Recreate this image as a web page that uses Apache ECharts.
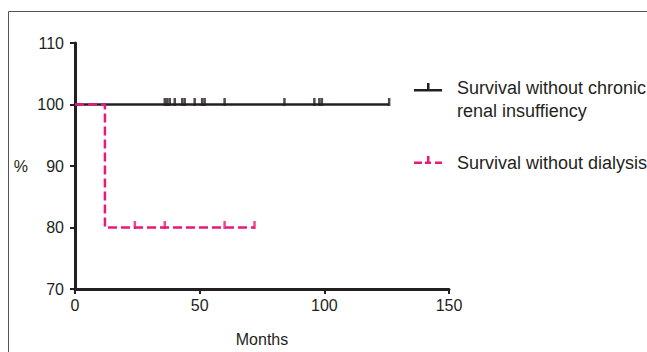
<!DOCTYPE html>
<html>
<head>
<meta charset="utf-8">
<script src="https://cdn.jsdelivr.net/npm/echarts@6/dist/echarts.min.js"></script>
<style>
  html, body { margin: 0; padding: 0; background: #fff; }
  #chart { width: 647px; height: 352px; }
</style>
</head>
<body>
<div id="chart"></div>
<script>
const X_TICKS = [0, 50, 100, 150];
const Y_TICKS = [70, 80, 90, 100, 110];

// Kaplan-Meier steps: [month, percent]
const CRI_CURVE = [[0, 100], [126, 100]];
const DIALYSIS_CURVE = [[0, 100], [12, 100], [12, 80], [72, 80]];

// censored observations (months)
const CRI_CENSORED = [36, 37, 38, 40, 43, 44, 48, 51, 52, 60, 84, 96, 98, 99, 126];
const CRI_CENSORED_LEVEL = 100;
const DIALYSIS_CENSORED = [24, 36, 60, 72];
const DIALYSIS_CENSORED_LEVEL = 80;

const LEGEND_NAMES = ["Survival without chronic\nrenal insuffiency", "Survival without dialysis"];

const BLACK = "#231f20";
const PINK = "#e8187c";
const FONT = "Liberation Sans, Arial, sans-serif";

const chart = echarts.init(document.getElementById("chart"), undefined, { renderer: "svg" });

const censorSeries = (times, level, color) => ({
  type: "scatter",
  data: times.map((t) => [t, level]),
  symbol: "rect",
  symbolSize: [2.5, 8],
  symbolOffset: [0, -2.5],
  itemStyle: { color },
  z: 4,
  silent: true,
});

chart.setOption({
  animation: false,
  grid: { left: 75, right: 198, top: 43, bottom: 62 },
  xAxis: {
    type: "value",
    min: X_TICKS[0],
    max: X_TICKS[X_TICKS.length - 1],
    interval: 50,
    name: "Months",
    nameLocation: "middle",
    nameGap: 42,
    nameTextStyle: { color: BLACK, fontSize: 16, fontFamily: FONT },
    axisLine: { lineStyle: { color: BLACK, width: 3 } },
    axisTick: { length: 5, lineStyle: { color: BLACK, width: 2 } },
    axisLabel: { color: BLACK, fontSize: 16, fontFamily: FONT, margin: 8 },
    splitLine: { show: false },
  },
  yAxis: {
    type: "value",
    min: Y_TICKS[0],
    max: Y_TICKS[Y_TICKS.length - 1],
    interval: 10,
    name: "%",
    nameLocation: "middle",
    nameRotate: 0,
    nameGap: 47,
    nameTextStyle: { color: BLACK, fontSize: 16, fontFamily: FONT },
    axisLine: { show: true, lineStyle: { color: BLACK, width: 3 } },
    axisTick: { show: true, length: 5, lineStyle: { color: BLACK, width: 2 } },
    axisLabel: { color: BLACK, fontSize: 16, fontFamily: FONT, margin: 11 },
    splitLine: { show: false },
  },
  series: [
    {
      name: LEGEND_NAMES[0],
      type: "line",
      data: CRI_CURVE,
      showSymbol: false,
      lineStyle: { color: BLACK, width: 2.5 },
      z: 2,
    },
    censorSeries(CRI_CENSORED, CRI_CENSORED_LEVEL, BLACK),
    {
      name: LEGEND_NAMES[1],
      type: "line",
      data: DIALYSIS_CURVE,
      showSymbol: false,
      lineStyle: { color: PINK, width: 2.5, type: [9, 4] },
      z: 3,
    },
    censorSeries(DIALYSIS_CENSORED, DIALYSIS_CENSORED_LEVEL, PINK),
  ],
  graphic: [
    {
      type: "rect",
      shape: { x: 8.5, y: 11.5, width: 800, height: 500 },
      style: { fill: "none", stroke: "#555", lineWidth: 1 },
      silent: true,
    },
    // legend: chronic renal insufficiency
    { type: "rect", shape: { x: 414, y: 89, width: 28, height: 2.5 }, style: { fill: BLACK } },
    { type: "rect", shape: { x: 427, y: 83, width: 2.5, height: 7 }, style: { fill: BLACK } },
    {
      type: "text",
      x: 457,
      y: 99.5,
      style: {
        text: LEGEND_NAMES[0],
        fill: BLACK,
        font: "18px " + FONT,
        lineHeight: 23,
        verticalAlign: "middle",
      },
    },
    // legend: dialysis
    { type: "rect", shape: { x: 414, y: 161.5, width: 8, height: 2.5 }, style: { fill: PINK } },
    { type: "rect", shape: { x: 425, y: 161.5, width: 6, height: 2.5 }, style: { fill: PINK } },
    { type: "rect", shape: { x: 435, y: 161.5, width: 7, height: 2.5 }, style: { fill: PINK } },
    { type: "rect", shape: { x: 427, y: 156, width: 2.5, height: 7 }, style: { fill: PINK } },
    {
      type: "text",
      x: 457,
      y: 163,
      style: {
        text: LEGEND_NAMES[1],
        fill: BLACK,
        font: "18px " + FONT,
        verticalAlign: "middle",
      },
    },
  ],
});
</script>
</body>
</html>
